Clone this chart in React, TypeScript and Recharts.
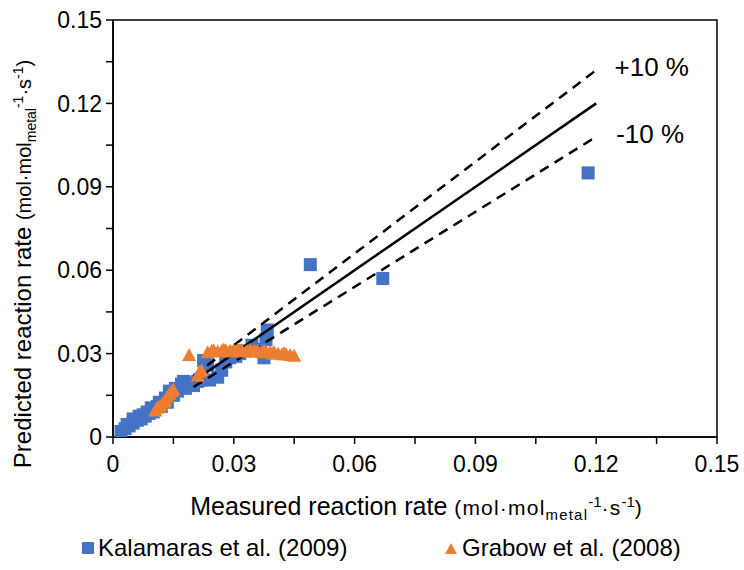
import React from 'react';
import {
  ScatterChart,
  Scatter,
  XAxis,
  YAxis,
  Legend,
  ReferenceArea,
  ReferenceDot,
} from 'recharts';

// Kalamaras et al. (2009): measured vs predicted rate
const kalamarasMeasured = [
  0.002, 0.003, 0.0035, 0.004, 0.005, 0.005, 0.006, 0.0065, 0.007, 0.0075,
  0.008, 0.0085, 0.009, 0.0095, 0.01, 0.011, 0.0115, 0.012, 0.013, 0.0135,
  0.014, 0.015, 0.0155, 0.016, 0.017, 0.0175, 0.018, 0.019, 0.02, 0.021,
  0.022, 0.0225, 0.0235, 0.024, 0.026, 0.027, 0.028, 0.029, 0.0305, 0.0315,
  0.033, 0.0345, 0.036, 0.0375, 0.038, 0.0383, 0.049, 0.067, 0.118,
];
const kalamarasPredicted = [
  0.002, 0.003, 0.0045, 0.004, 0.005, 0.0065, 0.006, 0.0075, 0.0065, 0.008,
  0.0075, 0.009, 0.0085, 0.0105, 0.009, 0.011, 0.0125, 0.011, 0.014, 0.0125,
  0.0165, 0.015, 0.0175, 0.0165, 0.019, 0.02, 0.0175, 0.0195, 0.0185, 0.02,
  0.0205, 0.0275, 0.026, 0.0205, 0.0215, 0.024, 0.027, 0.0285, 0.029, 0.03,
  0.031, 0.033, 0.0315, 0.0285, 0.035, 0.0385, 0.062, 0.057, 0.095,
];

// Grabow et al. (2008)
const grabowMeasured = [
  0.0105, 0.011, 0.0115, 0.012, 0.0125, 0.013, 0.0135, 0.014, 0.0145, 0.015,
  0.0189, 0.021, 0.0215, 0.022, 0.0235, 0.0245, 0.025, 0.026, 0.027, 0.0275,
  0.028, 0.029, 0.0295, 0.03, 0.031, 0.0315, 0.032, 0.033, 0.0335, 0.034,
  0.035, 0.0355, 0.036, 0.037, 0.0375, 0.038, 0.039, 0.0395, 0.04, 0.041,
  0.042, 0.0425, 0.043, 0.044, 0.045,
];
const grabowPredicted = [
  0.0095, 0.0105, 0.011, 0.0115, 0.0125, 0.013, 0.0145, 0.0155, 0.0165, 0.017,
  0.0295, 0.022, 0.0235, 0.024, 0.0305, 0.031, 0.0312, 0.0308, 0.031, 0.0315,
  0.0312, 0.031, 0.0308, 0.0312, 0.0315, 0.031, 0.0312, 0.0308, 0.031, 0.0315,
  0.031, 0.0308, 0.031, 0.0305, 0.031, 0.0308, 0.0305, 0.03, 0.0305, 0.03,
  0.0298, 0.0302, 0.0298, 0.0295, 0.0292,
];

// parity line and +/-10 % bounds
const parityLine = [
  { x: 0.02, y: 0.02 },
  { x: 0.12, y: 0.12 },
];
const plus10Line = [
  { x: 0.02, y: 0.022 },
  { x: 0.12, y: 0.132 },
];
const minus10Line = [
  { x: 0.02, y: 0.018 },
  { x: 0.12, y: 0.108 },
];

const axisTicks = [
  0, 0.015, 0.03, 0.045, 0.06, 0.075, 0.09, 0.105, 0.12, 0.135, 0.15,
];

const BLUE = '#4472C4';
const ORANGE = '#ED7D31';
const FONT = '"Liberation Sans", Arial, sans-serif';

const kalamaras = kalamarasMeasured.map((x, i) => ({ x, y: kalamarasPredicted[i] }));
const grabow = grabowMeasured.map((x, i) => ({ x, y: grabowPredicted[i] }));

const fmtTick = (v: number) => {
  const k = Math.round(v * 1000);
  if (k % 30 !== 0) return '';
  return k === 0 ? '0' : v.toFixed(2);
};

const Square = (props: any) => {
  const { cx, cy } = props;
  return <rect x={cx - 6.5} y={cy - 6.5} width={13} height={13} fill={BLUE} />;
};

const Triangle = (props: any) => {
  const { cx, cy } = props;
  return (
    <polygon
      points={`${cx},${cy - 7} ${cx + 7},${cy + 6} ${cx - 7},${cy + 6}`}
      fill={ORANGE}
    />
  );
};

const NoDot = () => <g />;

const unitParts = (big: number, small: number, spacing: number) => [
  <tspan key="a" fontSize={big} letterSpacing={spacing}>(mol·mol</tspan>,
  <tspan key="b" fontSize={small} dy={5} letterSpacing={spacing}>metal</tspan>,
  <tspan key="c" fontSize={small} dy={-13}>-1</tspan>,
  <tspan key="d" fontSize={big} dy={8} letterSpacing={spacing}>·s</tspan>,
  <tspan key="e" fontSize={small} dy={-8}>-1</tspan>,
  <tspan key="f" fontSize={big} dy={8}>)</tspan>,
];

const XTitle = () => (
  <text x={416} y={515} textAnchor="middle" fontFamily={FONT} fill="#000">
    <tspan fontSize={25}>Measured reaction rate </tspan>
    {unitParts(21, 15, 1.2)}
  </text>
);

const YTitle = () => (
  <text
    x={0}
    y={0}
    transform="translate(31, 264) rotate(-90)"
    textAnchor="middle"
    fontFamily={FONT}
    fill="#000"
  >
    <tspan fontSize={24}>Predicted reaction rate </tspan>
    {unitParts(20, 14, 0)}
  </text>
);

const renderLegend = () => (
  <div style={{ position: 'relative', height: 30, fontFamily: FONT, fontSize: 24, lineHeight: '30px', color: '#000' }}>
    <div style={{ position: 'absolute', left: 82, top: 0, display: 'flex', alignItems: 'center' }}>
      <svg width={12} height={12} style={{ marginRight: 4 }}>
        <rect x={0} y={0} width={12} height={12} fill={BLUE} />
      </svg>
      <span>Kalamaras et al. (2009)</span>
    </div>
    <div style={{ position: 'absolute', left: 445, top: 0, display: 'flex', alignItems: 'center' }}>
      <svg width={12} height={12} style={{ marginRight: 5 }}>
        <polygon points="6,1 12,12 0,12" fill={ORANGE} />
      </svg>
      <span>Grabow et al. (2008)</span>
    </div>
  </div>
);

const pctLabel = (text: string) => (props: any) => {
  const { viewBox } = props;
  return (
    <text
      x={viewBox.x}
      y={viewBox.y + 9}
      textAnchor="middle"
      fontFamily={FONT}
      fontSize={26}
      fill="#000"
    >
      {text}
    </text>
  );
};

const tickStyle = { fontSize: 23, fill: '#000', fontFamily: FONT };

export default function App() {
  return (
    <div style={{ position: 'absolute', left: 0, top: 0, width: 744, height: 570, background: '#fff' }}>
      <ScatterChart
        width={744}
        height={570}
        margin={{ top: 20, right: 27, bottom: 0, left: 0 }}
      >
        <ReferenceArea
          x1={0}
          x2={0.15}
          y1={0}
          y2={0.15}
          fill="none"
          stroke="#000"
          strokeWidth={1.5}
          ifOverflow="visible"
        />
        <XAxis
          type="number"
          dataKey="x"
          domain={[0, 0.15]}
          ticks={axisTicks}
          tickFormatter={fmtTick}
          interval={0}
          height={133}
          tick={tickStyle}
          tickSize={7}
          tickMargin={12}
          stroke="#000"
          strokeWidth={1.5}
          allowDataOverflow
        />
        <YAxis
          type="number"
          dataKey="y"
          domain={[0, 0.15]}
          ticks={axisTicks}
          tickFormatter={fmtTick}
          interval={0}
          width={113}
          tick={tickStyle}
          tickSize={7}
          tickMargin={4}
          stroke="#000"
          strokeWidth={1.5}
          allowDataOverflow
        />
        <Legend
          verticalAlign="middle"
          align="center"
          content={renderLegend}
          wrapperStyle={{ top: 533, left: 0, width: 744 }}
        />
        <Scatter
          name="Kalamaras et al. (2009)"
          data={kalamaras}
          shape={Square}
          isAnimationActive={false}
        />
        <Scatter
          data={parityLine}
          line={{ stroke: '#000', strokeWidth: 2.5 }}
          shape={NoDot}
          legendType="none"
          isAnimationActive={false}
        />
        <Scatter
          data={plus10Line}
          line={{ stroke: '#000', strokeWidth: 2.5, strokeDasharray: '10 7' }}
          shape={NoDot}
          legendType="none"
          isAnimationActive={false}
        />
        <Scatter
          data={minus10Line}
          line={{ stroke: '#000', strokeWidth: 2.5, strokeDasharray: '10 7' }}
          shape={NoDot}
          legendType="none"
          isAnimationActive={false}
        />
        <Scatter
          name="Grabow et al. (2008)"
          data={grabow}
          shape={Triangle}
          isAnimationActive={false}
        />
        <ReferenceDot x={0.1338} y={0.133} r={0} fill="none" stroke="none" label={pctLabel('+10 %')} />
        <ReferenceDot x={0.1334} y={0.109} r={0} fill="none" stroke="none" label={pctLabel('-10 %')} />
        <XTitle />
        <YTitle />
      </ScatterChart>
    </div>
  );
}
